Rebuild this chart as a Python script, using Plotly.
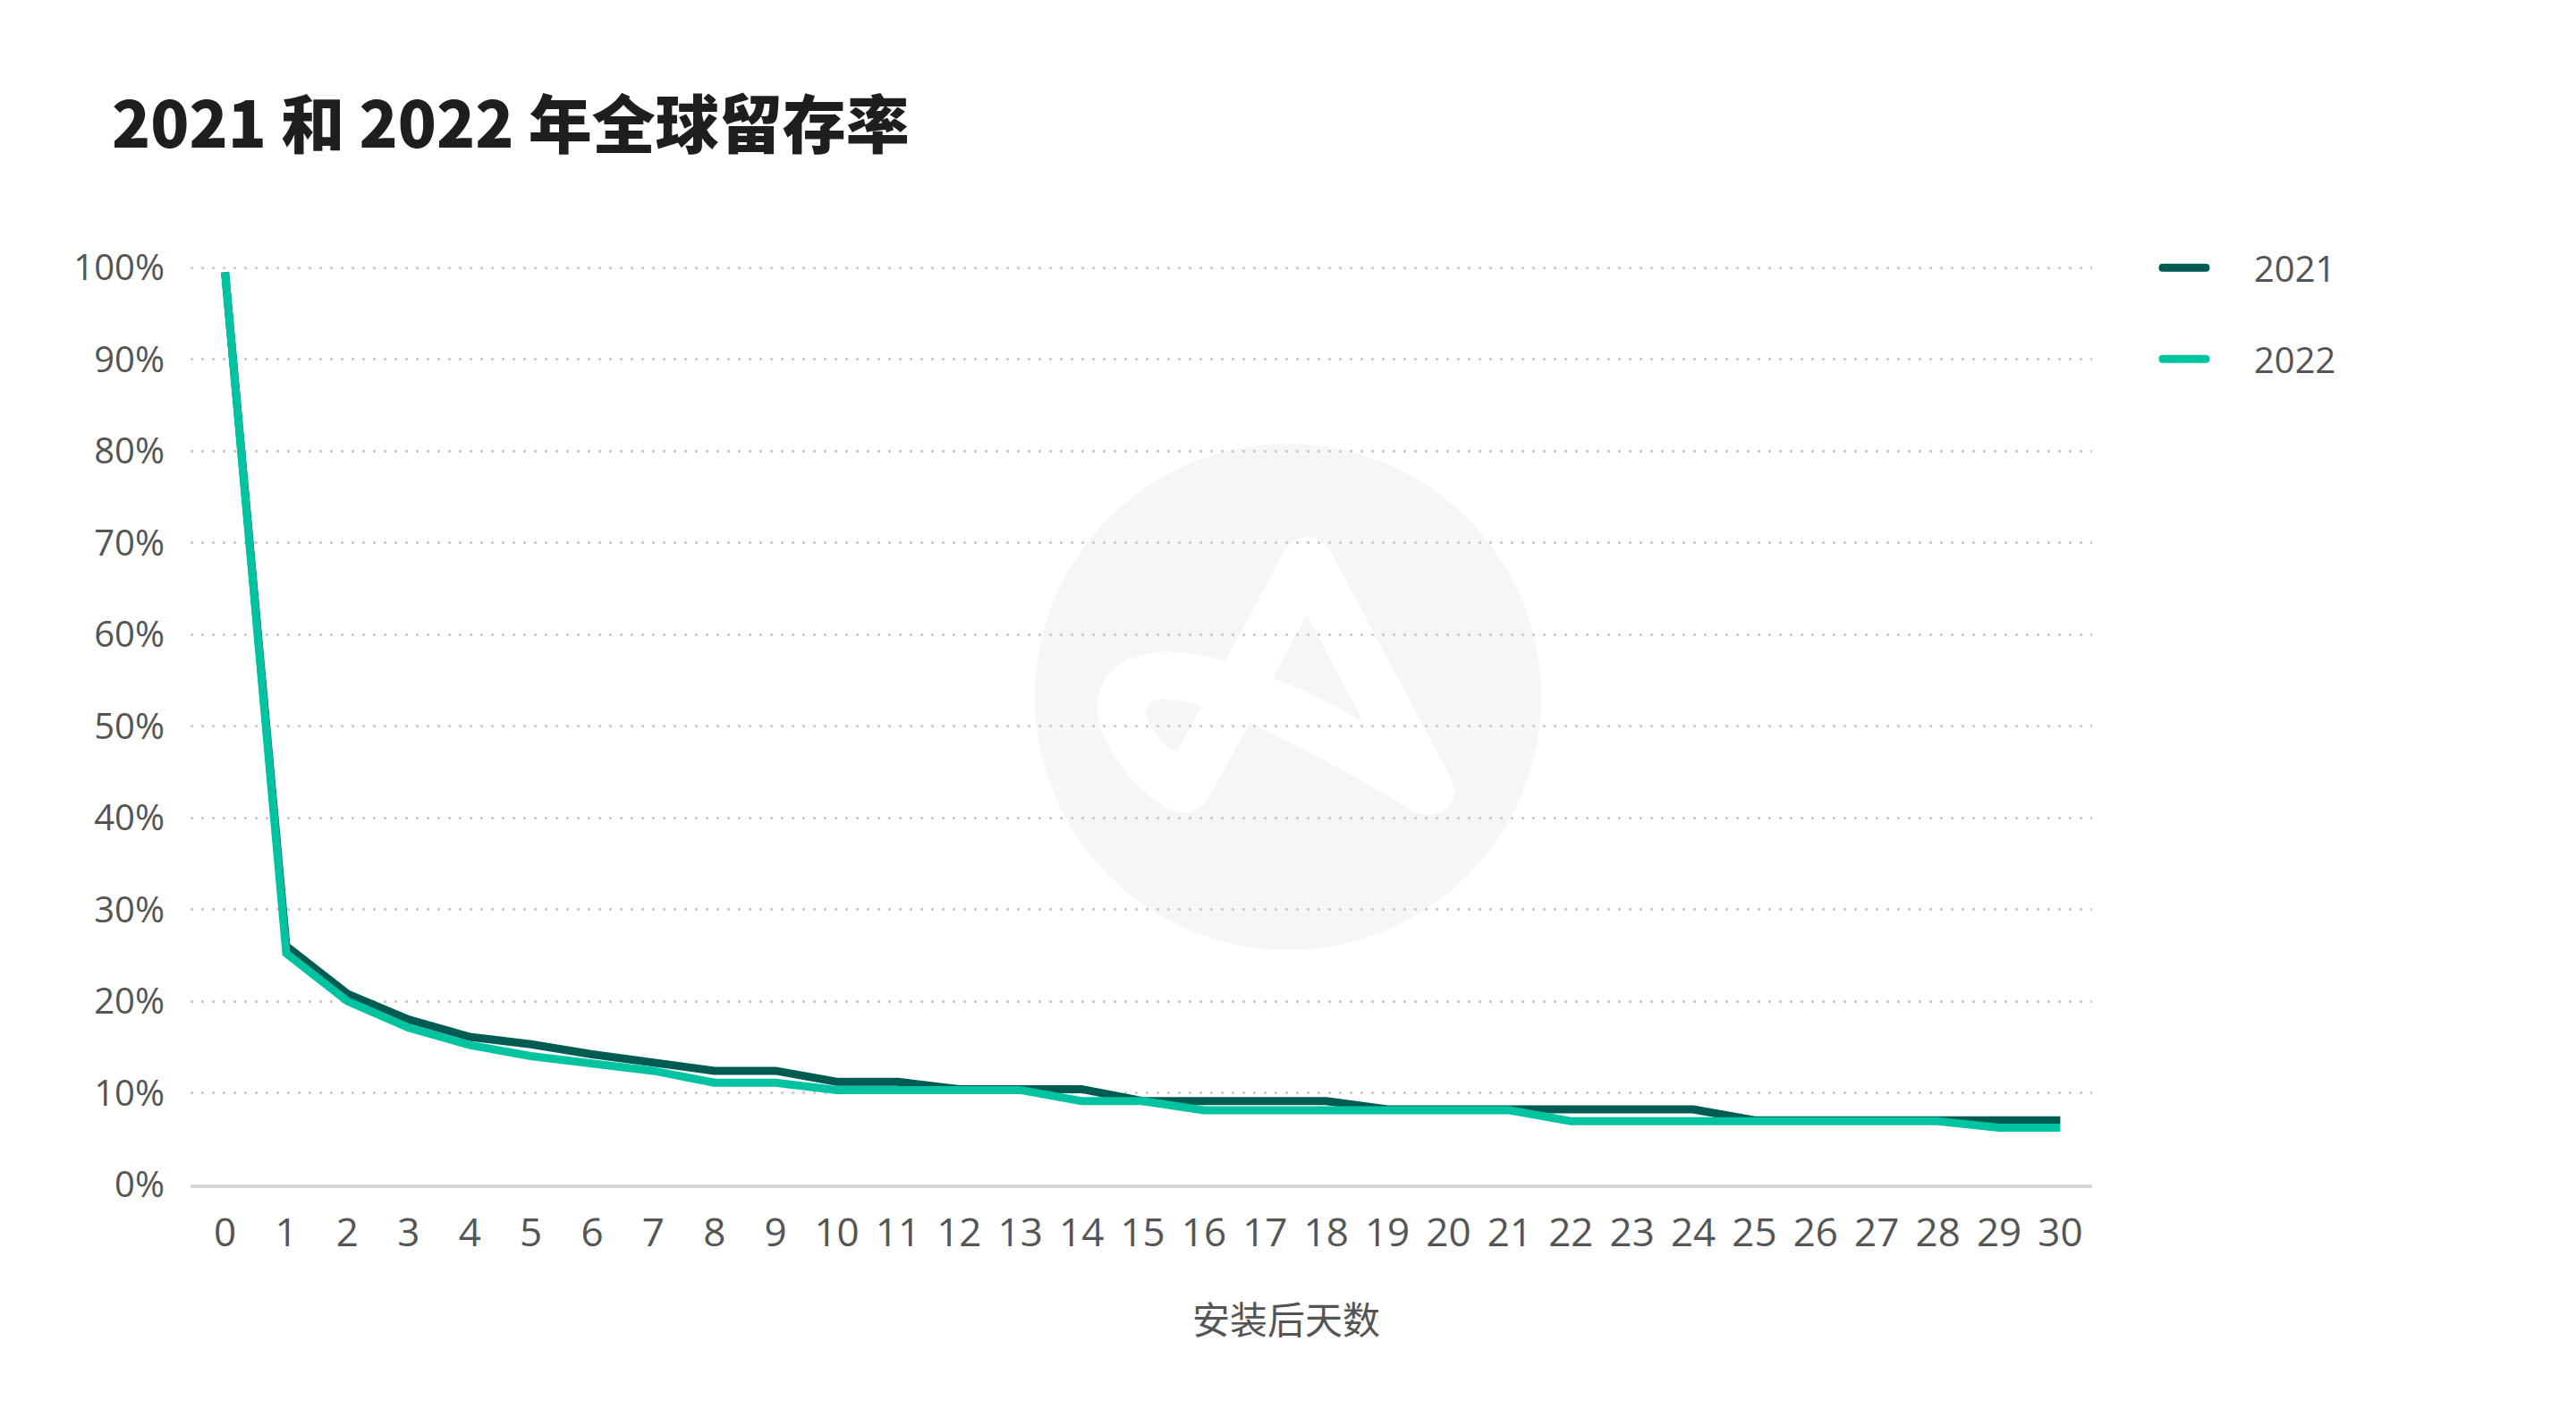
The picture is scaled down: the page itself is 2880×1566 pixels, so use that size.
import plotly.graph_objects as go

# ---- data ----
days = list(range(31))
day_labels = [str(d) for d in days]
ret_2021 = [99.5, 26.0, 20.8, 18.0, 16.1, 15.3, 14.2, 13.3, 12.4, 12.4, 11.2, 11.2, 10.4, 10.4, 10.4,
            9.1, 9.1, 9.1, 9.1, 8.2, 8.2, 8.2, 8.2, 8.2, 8.2, 7.0, 7.0, 7.0, 7.0, 7.0, 7.0]
ret_2022 = [99.5, 25.2, 20.0, 17.1, 15.2, 14.0, 13.2, 12.4, 11.1, 11.1, 10.3, 10.3, 10.3, 10.3, 9.1,
            9.1, 8.1, 8.1, 8.1, 8.1, 8.1, 8.1, 6.9, 6.9, 6.9, 6.9, 6.9, 6.9, 6.9, 6.2, 6.2]
series_names = ["2021", "2022"]
y_tickvals = list(range(0, 101, 10))
y_ticktext = [f"{v}%" for v in y_tickvals]
title_text = "2021 和 2022 年全球留存率"
x_title = "安装后天数"

C2021 = "#005B52"
C2022 = "#00C4A1"
GREY = "#555555"

OFF = 8  # page body margin
W, H = 2880 - 2 * OFF, 1566 - 2 * OFF
# plot area in screen pixels
Ls, Rs, Ts, Bs = 213, 2339, 299, 1324
YMAX = 100.6
Ts_ext = Bs - (Bs - Ts) * YMAX / 100.0
L, R, T, B = Ls - OFF, Rs - OFF, Ts_ext - OFF, Bs - OFF
PW, PH = R - L, B - T


def px(X):
    return (X - OFF - L) / PW


def py(Y):
    return (B - (Y - OFF)) / PH


fig = go.Figure()
fig.add_trace(go.Scatter(x=days, y=ret_2021, mode="lines", name=series_names[0],
                         line=dict(color=C2021, width=9), cliponaxis=False))
fig.add_trace(go.Scatter(x=days, y=ret_2022, mode="lines", name=series_names[1],
                         line=dict(color=C2022, width=9), cliponaxis=False))

shapes = []
# watermark circle
cx, cy, rr = 1440, 779, 283
shapes.append(dict(type="circle", xref="paper", yref="paper", layer="below",
                   x0=px(cx - rr), x1=px(cx + rr), y0=py(cy + rr), y1=py(cy - rr),
                   fillcolor="#F6F6F6", line=dict(width=0)))


def zpath(cmds):
    out = []
    for c in cmds:
        if isinstance(c, str):
            out.append(c)
        else:
            zx, zy = c
            X = 1150 + zx / 2.6
            Y = 470 + zy / 2.6
            out.append(f"{px(X):.5f},{py(Y):.5f}")
    return " ".join(out)


logo = zpath(["M", (745, 375), "Q", (810, 300), (875, 375), "L", (1228, 1040),
              "Q", (1260, 1110), (1190, 1140), "Q", (1150, 1155), (1110, 1130),
              "Q", (880, 990), (643, 878), "L", (525, 1095),
              "Q", (480, 1160), (410, 1130), "C", (320, 1080), (210, 960), (200, 840),
              "C", (195, 720), (300, 672), (410, 672), "Q", (500, 675), (572, 700), "Z"])
hole1 = zpath(["M", (808, 565), "L", (975, 878), "Q", (850, 800), (710, 750), "Z"])
hole2 = zpath(["M", (503, 830), "L", (430, 965), "Q", (360, 920), (340, 850),
               "Q", (345, 805), (400, 810), "Q", (450, 812), (503, 830), "Z"])
shapes.append(dict(type="path", xref="paper", yref="paper", layer="below", path=logo,
                   fillcolor="#FFFFFF", line=dict(width=0)))
for hp in (hole1, hole2):
    shapes.append(dict(type="path", xref="paper", yref="paper", layer="below", path=hp,
                       fillcolor="#F6F6F6", line=dict(width=0)))


# custom legend
def bar_path(X0, X1, Y, h):
    pts = ["M", (X0, Y - h), "L", (X1, Y - h), "Q", (X1 + h, Y - h), (X1 + h, Y),
           "Q", (X1 + h, Y + h), (X1, Y + h), "L", (X0, Y + h), "Q", (X0 - h, Y + h), (X0 - h, Y),
           "Q", (X0 - h, Y - h), (X0, Y - h), "Z"]
    out = []
    for p in pts:
        if isinstance(p, str):
            out.append(p)
        else:
            out.append(f"{px(p[0]):.5f},{py(p[1]):.5f}")
    return " ".join(out)


annotations = []
for name, col, Y in zip(series_names, [C2021, C2022], [299, 401]):
    shapes.append(dict(type="path", xref="paper", yref="paper", path=bar_path(2418, 2466, Y, 4.5),
                       fillcolor=col, line=dict(width=0)))
    annotations.append(dict(text=name, xref="paper", yref="paper", x=px(2518), y=py(Y),
                            xanchor="left", yanchor="middle", showarrow=False,
                            font=dict(family="Open Sans", size=40, color=GREY)))

annotations.append(dict(text=x_title, xref="paper", yref="paper", x=px(1438), y=py(1473),
                        xanchor="center", yanchor="middle", showarrow=False,
                        font=dict(family="Noto Sans CJK SC", size=42, color=GREY)))

fig.update_layout(
    width=W, height=H,
    margin=dict(l=L, r=W - R, t=T, b=H - B, pad=0),
    paper_bgcolor="white", plot_bgcolor="white",
    showlegend=False,
    title=dict(text=title_text, x=(125 - OFF) / W, xanchor="left", xref="container",
               y=1 - (140 - OFF) / H, yanchor="middle", yref="container",
               font=dict(family="Noto Sans CJK SC", size=71, color="#1E1E1E", weight=900)),
    shapes=shapes,
    annotations=annotations,
)
fig.update_xaxes(range=[-0.565, 30.52], tickvals=days, ticktext=day_labels, showgrid=False,
                 zeroline=False, showline=True, linecolor="#D6D6D6", linewidth=4,
                 ticks="", ticklabelstandoff=12,
                 tickfont=dict(family="Open Sans", size=44, color=GREY), fixedrange=True)
fig.update_yaxes(range=[0, YMAX], tickvals=y_tickvals, ticktext=y_ticktext, showgrid=True,
                 gridcolor="#CFCFCF", gridwidth=3, griddash="3px,9px", zeroline=False,
                 showline=False, ticks="", ticklabelstandoff=28,
                 tickfont=dict(family="Open Sans", size=40, color=GREY), fixedrange=True)

fig.write_html("out.html")
